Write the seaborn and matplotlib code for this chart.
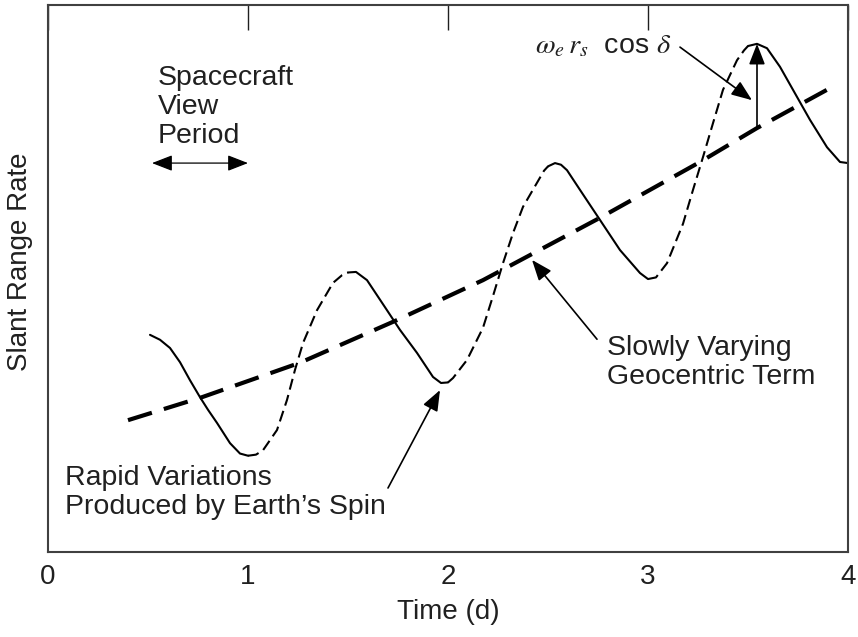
import numpy as np
import pandas as pd
import matplotlib
matplotlib.use("Agg")
import matplotlib.pyplot as plt
import seaborn as sns

# Rapid variation (Earth's spin) curve
spin_t = [0.51, 0.56, 0.61, 0.66, 0.71, 0.76, 0.80, 0.845, 0.91, 0.96, 1.00, 1.04, 1.075,
          1.145, 1.195, 1.235, 1.275, 1.345, 1.425, 1.47, 1.50, 1.54, 1.595, 1.695, 1.76,
          1.845, 1.925, 1.965, 2.00, 2.025, 2.095, 2.175, 2.225, 2.275, 2.325, 2.375, 2.445,
          2.48, 2.50, 2.535, 2.565, 2.595, 2.66, 2.76, 2.86, 2.96, 3.00, 3.04, 3.095, 3.175,
          3.225, 3.275, 3.325, 3.375, 3.445, 3.48, 3.50, 3.545, 3.595, 3.66, 3.745, 3.81,
          3.895, 3.96, 4.00]
spin_rate = [0.397, 0.388, 0.373, 0.347, 0.314, 0.283, 0.260, 0.236, 0.199, 0.180, 0.176, 0.178,
             0.186, 0.223, 0.278, 0.333, 0.382, 0.442, 0.492, 0.506, 0.511, 0.512, 0.497, 0.442,
             0.406, 0.364, 0.320, 0.309, 0.310, 0.318, 0.351, 0.410, 0.468, 0.528, 0.583, 0.631,
             0.675, 0.697, 0.705, 0.711, 0.708, 0.698, 0.662, 0.607, 0.552, 0.510, 0.499, 0.502,
             0.528, 0.600, 0.662, 0.722, 0.784, 0.845, 0.899, 0.917, 0.925, 0.929, 0.921, 0.887,
             0.832, 0.790, 0.740, 0.713, 0.711]

# Slowly varying geocentric term
geo_t = [0.40, 0.77, 1.26, 1.745, 2.175, 2.76, 3.26, 3.545, 3.92]
geo_rate = [0.241, 0.283, 0.346, 0.424, 0.497, 0.611, 0.713, 0.775, 0.850]

# Spacecraft view periods (solid parts of the curve)
view_start = [0.5, 1.5, 2.5, 3.5]
view_end = [1.0, 2.0, 3.0, 4.0]
gap_start = [1.0, 2.0, 3.0]
gap_end = [1.5, 2.5, 3.5]

df = pd.DataFrame({"t": spin_t, "rate": spin_rate})
geo = pd.DataFrame({"t": geo_t, "rate": geo_rate})

sns.set_theme(style="white")
plt.rcParams["font.family"] = ["Liberation Sans", "DejaVu Sans"]
plt.rcParams["mathtext.fontset"] = "stix"
plt.rcParams["lines.scale_dashes"] = False

fig = plt.figure(figsize=(8.58, 6.37), dpi=100)
ax = fig.add_axes([48 / 858, 85 / 637, 800 / 858, 547 / 637])

# geocentric term, heavy long dashes
sns.lineplot(data=geo, x="t", y="rate", ax=ax, color="black", lw=3.0,
             linestyle=(0, (18, 9)), sort=False, estimator=None)

# in view -> solid, out of view -> thin dashes
for s, e in zip(view_start, view_end):
    seg = df[(df.t >= s) & (df.t <= e)]
    sns.lineplot(data=seg, x="t", y="rate", ax=ax, color="black", lw=1.5,
                 sort=False, estimator=None)
for s, e in zip(gap_start, gap_end):
    seg = df[(df.t >= s) & (df.t <= e)]
    sns.lineplot(data=seg, x="t", y="rate", ax=ax, color="black", lw=1.5,
                 linestyle=(0, (8, 4)), sort=False, estimator=None)

ax.set_xlim(0, 4)
ax.set_ylim(0, 1)
ax.set_xticks([0, 1, 2, 3, 4])
ax.set_yticks([])
ax.tick_params(axis="x", direction="in", length=18, width=1, top=True,
               labeltop=False, pad=9, labelsize=20, colors="#202020")
for sp in ax.spines.values():
    sp.set_color("#404040")
    sp.set_linewidth(1.5)

ax.set_xlabel("Time (d)", fontsize=20, labelpad=6, color="#202020")
ax.set_ylabel("Slant Range Rate", fontsize=20, color="#202020")
ax.yaxis.set_label_coords(-0.019, 0.53)

fs = 20.5
ls = 1.15
ax.text(0.55, 0.890, "Spacecraft\nView\nPeriod", fontsize=fs, va="top", ha="left",
        color="#202020", linespacing=ls)
ax.annotate("", xy=(0.52, 0.711), xytext=(1.0, 0.711),
            arrowprops=dict(arrowstyle="<|-|>,head_length=0.9,head_width=0.35",
                            color="black", lw=0.9, mutation_scale=14,
                            shrinkA=0, shrinkB=0))

ax.text(2.795, 0.397, "Slowly Varying\nGeocentric Term", fontsize=fs, va="top",
        ha="left", color="#202020", linespacing=ls)
ax.annotate("", xy=(2.42, 0.534), xytext=(2.745, 0.389),
            arrowprops=dict(arrowstyle="-|>,head_length=0.9,head_width=0.35",
                            color="black", lw=1.2, mutation_scale=14,
                            shrinkA=0, shrinkB=0))

ax.text(0.085, 0.159, "Rapid Variations\nProduced by Earth\u2019s Spin", fontsize=fs,
        va="top", ha="left", color="#202020", linespacing=ls)
ax.annotate("", xy=(1.96, 0.296), xytext=(1.70, 0.117),
            arrowprops=dict(arrowstyle="-|>,head_length=0.9,head_width=0.35",
                            color="black", lw=1.2, mutation_scale=14,
                            shrinkA=0, shrinkB=0))

ax.text(2.435, 0.912, r"$\omega_e\,r_s$  cos $\delta$", fontsize=fs, va="baseline",
        ha="left", color="#202020")
ax.annotate("", xy=(3.52, 0.826), xytext=(3.16, 0.923),
            arrowprops=dict(arrowstyle="-|>,head_length=0.9,head_width=0.35",
                            color="black", lw=1.2, mutation_scale=14,
                            shrinkA=0, shrinkB=0))
ax.annotate("", xy=(3.545, 0.929), xytext=(3.545, 0.775),
            arrowprops=dict(arrowstyle="-|>,head_length=0.9,head_width=0.35",
                            color="black", lw=1.2, mutation_scale=14,
                            shrinkA=0, shrinkB=0))

fig.savefig("out.png", dpi=100)
